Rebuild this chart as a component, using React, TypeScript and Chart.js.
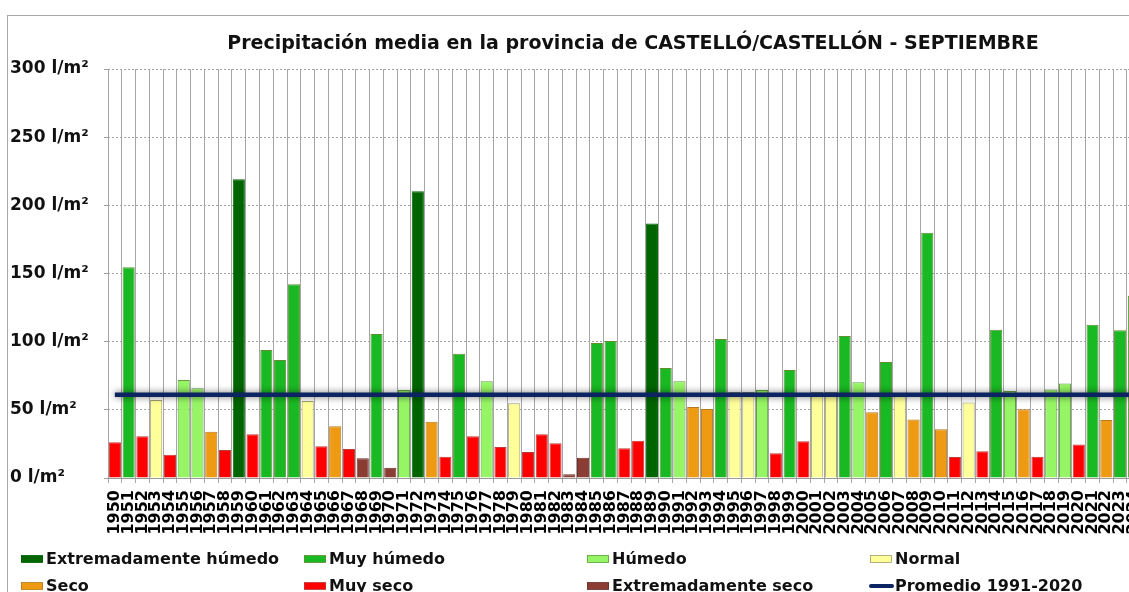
import React, { useEffect, useRef } from 'react';
import { Chart, registerables } from 'chart.js';

Chart.register(...registerables);

const TITLE = 'Precipitación media en la provincia de CASTELLÓ/CASTELLÓN - SEPTIEMBRE';

const years = [
  '1950', '1951', '1952', '1953', '1954', '1955', '1956', '1957', '1958', '1959',
  '1960', '1961', '1962', '1963', '1964', '1965', '1966', '1967', '1968', '1969',
  '1970', '1971', '1972', '1973', '1974', '1975', '1976', '1977', '1978', '1979',
  '1980', '1981', '1982', '1983', '1984', '1985', '1986', '1987', '1988', '1989',
  '1990', '1991', '1992', '1993', '1994', '1995', '1996', '1997', '1998', '1999',
  '2000', '2001', '2002', '2003', '2004', '2005', '2006', '2007', '2008', '2009',
  '2010', '2011', '2012', '2013', '2014', '2015', '2016', '2017', '2018', '2019',
  '2020', '2021', '2022', '2023', '2024',
];

const precipitation = [
  26.2, 154.5, 30.6, 57.2, 17.1, 71.9, 65.8, 34.0, 20.5, 219.1,
  32.0, 93.9, 86.6, 142.1, 56.5, 23.2, 37.9, 21.3, 14.4, 105.6,
  7.6, 64.5, 210.3, 41.3, 15.6, 91.2, 30.6, 70.9, 22.7, 54.8,
  19.1, 32.0, 25.4, 2.7, 14.9, 99.0, 100.5, 21.8, 27.4, 186.6,
  80.7, 70.9, 52.1, 50.6, 102.0, 63.0, 63.0, 64.5, 18.1, 79.2,
  26.9, 63.0, 63.0, 104.2, 70.2, 48.2, 85.1, 60.0, 43.0, 179.9,
  35.7, 15.4, 55.3, 19.6, 108.8, 63.8, 50.4, 15.6, 65.0, 69.4,
  24.5, 112.5, 42.5, 108.3, 133.7,
];

const classes = [
  'MS', 'MH', 'MS', 'N', 'MS', 'H', 'H', 'S', 'MS', 'EH',
  'MS', 'MH', 'MH', 'MH', 'N', 'MS', 'S', 'MS', 'ES', 'MH',
  'ES', 'H', 'EH', 'S', 'MS', 'MH', 'MS', 'H', 'MS', 'N',
  'MS', 'MS', 'MS', 'ES', 'ES', 'MH', 'MH', 'MS', 'MS', 'EH',
  'MH', 'H', 'S', 'S', 'MH', 'N', 'N', 'H', 'MS', 'MH',
  'MS', 'N', 'N', 'MH', 'H', 'S', 'MH', 'N', 'S', 'MH',
  'S', 'MS', 'N', 'MS', 'MH', 'H', 'S', 'MS', 'H', 'H',
  'MS', 'MH', 'S', 'MH', 'MH',
];

const average = 61;
const averageLabel = 'Promedio 1991-2020';

const classKeys = ['EH', 'MH', 'H', 'N', 'S', 'MS', 'ES'];
const classLabels = [
  'Extremadamente húmedo', 'Muy húmedo', 'Húmedo', 'Normal',
  'Seco', 'Muy seco', 'Extremadamente seco',
];
const classColors = ['#006400', '#19b923', '#96f564', '#ffff99', '#ee9a12', '#ff0000', '#8b3c33'];
const classBorders = ['#006400', '#5f8f30', '#5f9f40', '#a0a070', '#b57a20', '#c03a3a', '#6a3028'];

const yTicks = [0, 50, 100, 150, 200, 250, 300];

const FONT = '"DejaVu Sans", Verdana, sans-serif';

const colorOf = (k: string) => classColors[classKeys.indexOf(k)];
const borderOf = (k: string) => classBorders[classKeys.indexOf(k)];

const titlePlugin = {
  id: 'customTitle',
  afterDraw(chart: any) {
    const c = chart.ctx;
    c.save();
    c.font = `bold 19px ${FONT}`;
    c.fillStyle = '#111';
    c.textAlign = 'center';
    c.textBaseline = 'middle';
    c.fillText(TITLE, 633, 44);
    c.restore();
  },
};

const legendPlugin = {
  id: 'customLegend',
  afterDraw(chart: any) {
    const c = chart.ctx;
    const cols = [21, 304, 587, 870];
    const rows = [559, 586];
    c.save();
    c.font = `bold 16px ${FONT}`;
    c.textBaseline = 'middle';
    c.textAlign = 'left';
    const entries = classLabels.map((label, i) => ({ label, color: classColors[i], border: classBorders[i], line: false }));
    entries.push({ label: averageLabel, color: '#0c2461', border: '#0c2461', line: true });
    entries.forEach((e, i) => {
      const x = cols[i % 4];
      const y = rows[Math.floor(i / 4)];
      if (e.line) {
        c.strokeStyle = e.color;
        c.lineWidth = 4;
        c.lineCap = 'round';
        c.beginPath();
        c.moveTo(x + 1, y);
        c.lineTo(x + 22, y);
        c.stroke();
      } else {
        c.fillStyle = e.color;
        c.fillRect(x, y - 3.5, 22, 7);
        c.strokeStyle = e.border;
        c.lineWidth = 0.8;
        c.strokeRect(x + 0.5, y - 3.5, 21, 7);
      }
      c.fillStyle = '#111';
      c.fillText(e.label, x + 25, y + 0.5);
    });
    c.restore();
  },
};

const shadowPlugin = {
  id: 'lineShadow',
  beforeDatasetDraw(chart: any, args: any) {
    if (args.meta.type === 'line') {
      const c = chart.ctx;
      c.save();
      c.shadowColor = 'rgba(0,0,0,0.6)';
      c.shadowBlur = 7;
    }
  },
  afterDatasetDraw(chart: any, args: any) {
    if (args.meta.type === 'line') chart.ctx.restore();
  },
};

const App = () => {
  const ref = useRef<HTMLCanvasElement>(null);

  useEffect(() => {
    const canvas = ref.current;
    if (!canvas) return;
    const chart = new Chart(canvas, {
      type: 'bar',
      data: {
        labels: years,
        datasets: [
          {
            type: 'line',
            label: averageLabel,
            data: years.map(() => average),
            borderColor: '#0c2461',
            borderWidth: 4.5,
            pointRadius: 0,
            fill: false,
            order: 0,
            clip: false as any,
          } as any,
          {
            type: 'bar',
            label: 'Precipitación',
            data: precipitation,
            backgroundColor: classes.map(colorOf),
            borderColor: classes.map(borderOf),
            borderWidth: 1,
            barPercentage: 0.88,
            categoryPercentage: 1,
            order: 1,
          },
        ],
      },
      options: {
        responsive: false,
        animation: false,
        devicePixelRatio: 1,
        layout: { padding: { left: 10, top: 69, right: 19.25, bottom: 62 } },
        plugins: {
          legend: { display: false },
          title: { display: false },
          tooltip: { enabled: false },
        },
        scales: {
          x: {
            grid: {
              color: '#a6a6a6',
              lineWidth: 1,
              offset: true,
              tickLength: 5,
            },
            border: { display: true, color: '#9a9a9a' },
            ticks: {
              autoSkip: false,
              maxRotation: 90,
              minRotation: 90,
              padding: 7,
              color: '#000',
              font: { family: FONT, size: 16, weight: 'bold' },
            },
            afterFit: (axis: any) => {
              axis.height = 80;
              axis.paddingLeft = 0;
              axis.paddingRight = 0;
            },
          },
          y: {
            min: 0,
            max: 300,
            afterBuildTicks: (axis: any) => {
              axis.ticks = yTicks.map((v) => ({ value: v }));
            },
            grid: {
              color: '#a2a2a2',
              lineWidth: 1,
              tickLength: 4,
            },
            border: { display: false, dash: [2, 2] },
            ticks: {
              crossAlign: 'far',
              color: '#111',
              font: { family: FONT, size: 17, weight: 'bold' },
              callback: (v: any) => `${v} l/m²`,
            },
            afterFit: (axis: any) => {
              axis.width = 98;
              axis.paddingTop = 0;
              axis.paddingBottom = 0;
            },
          } as any,
        },
      },
      plugins: [shadowPlugin, titlePlugin, legendPlugin],
    } as any);

    return () => chart.destroy();
  }, []);

  return (
    <div
      style={{
        position: 'fixed',
        left: 0,
        top: 0,
        width: 1129,
        height: 592,
        overflow: 'hidden',
        background: '#ffffff',
      }}
    >
      <div
        style={{
          position: 'absolute',
          left: 7,
          top: 15,
          width: 1300,
          height: 700,
          border: '1px solid #a8a8a8',
        }}
      />
      <canvas
        ref={ref}
        width={1160}
        height={620}
        style={{ position: 'absolute', left: 0, top: 0, width: 1160, height: 620 }}
      />
    </div>
  );
};

export default App;
